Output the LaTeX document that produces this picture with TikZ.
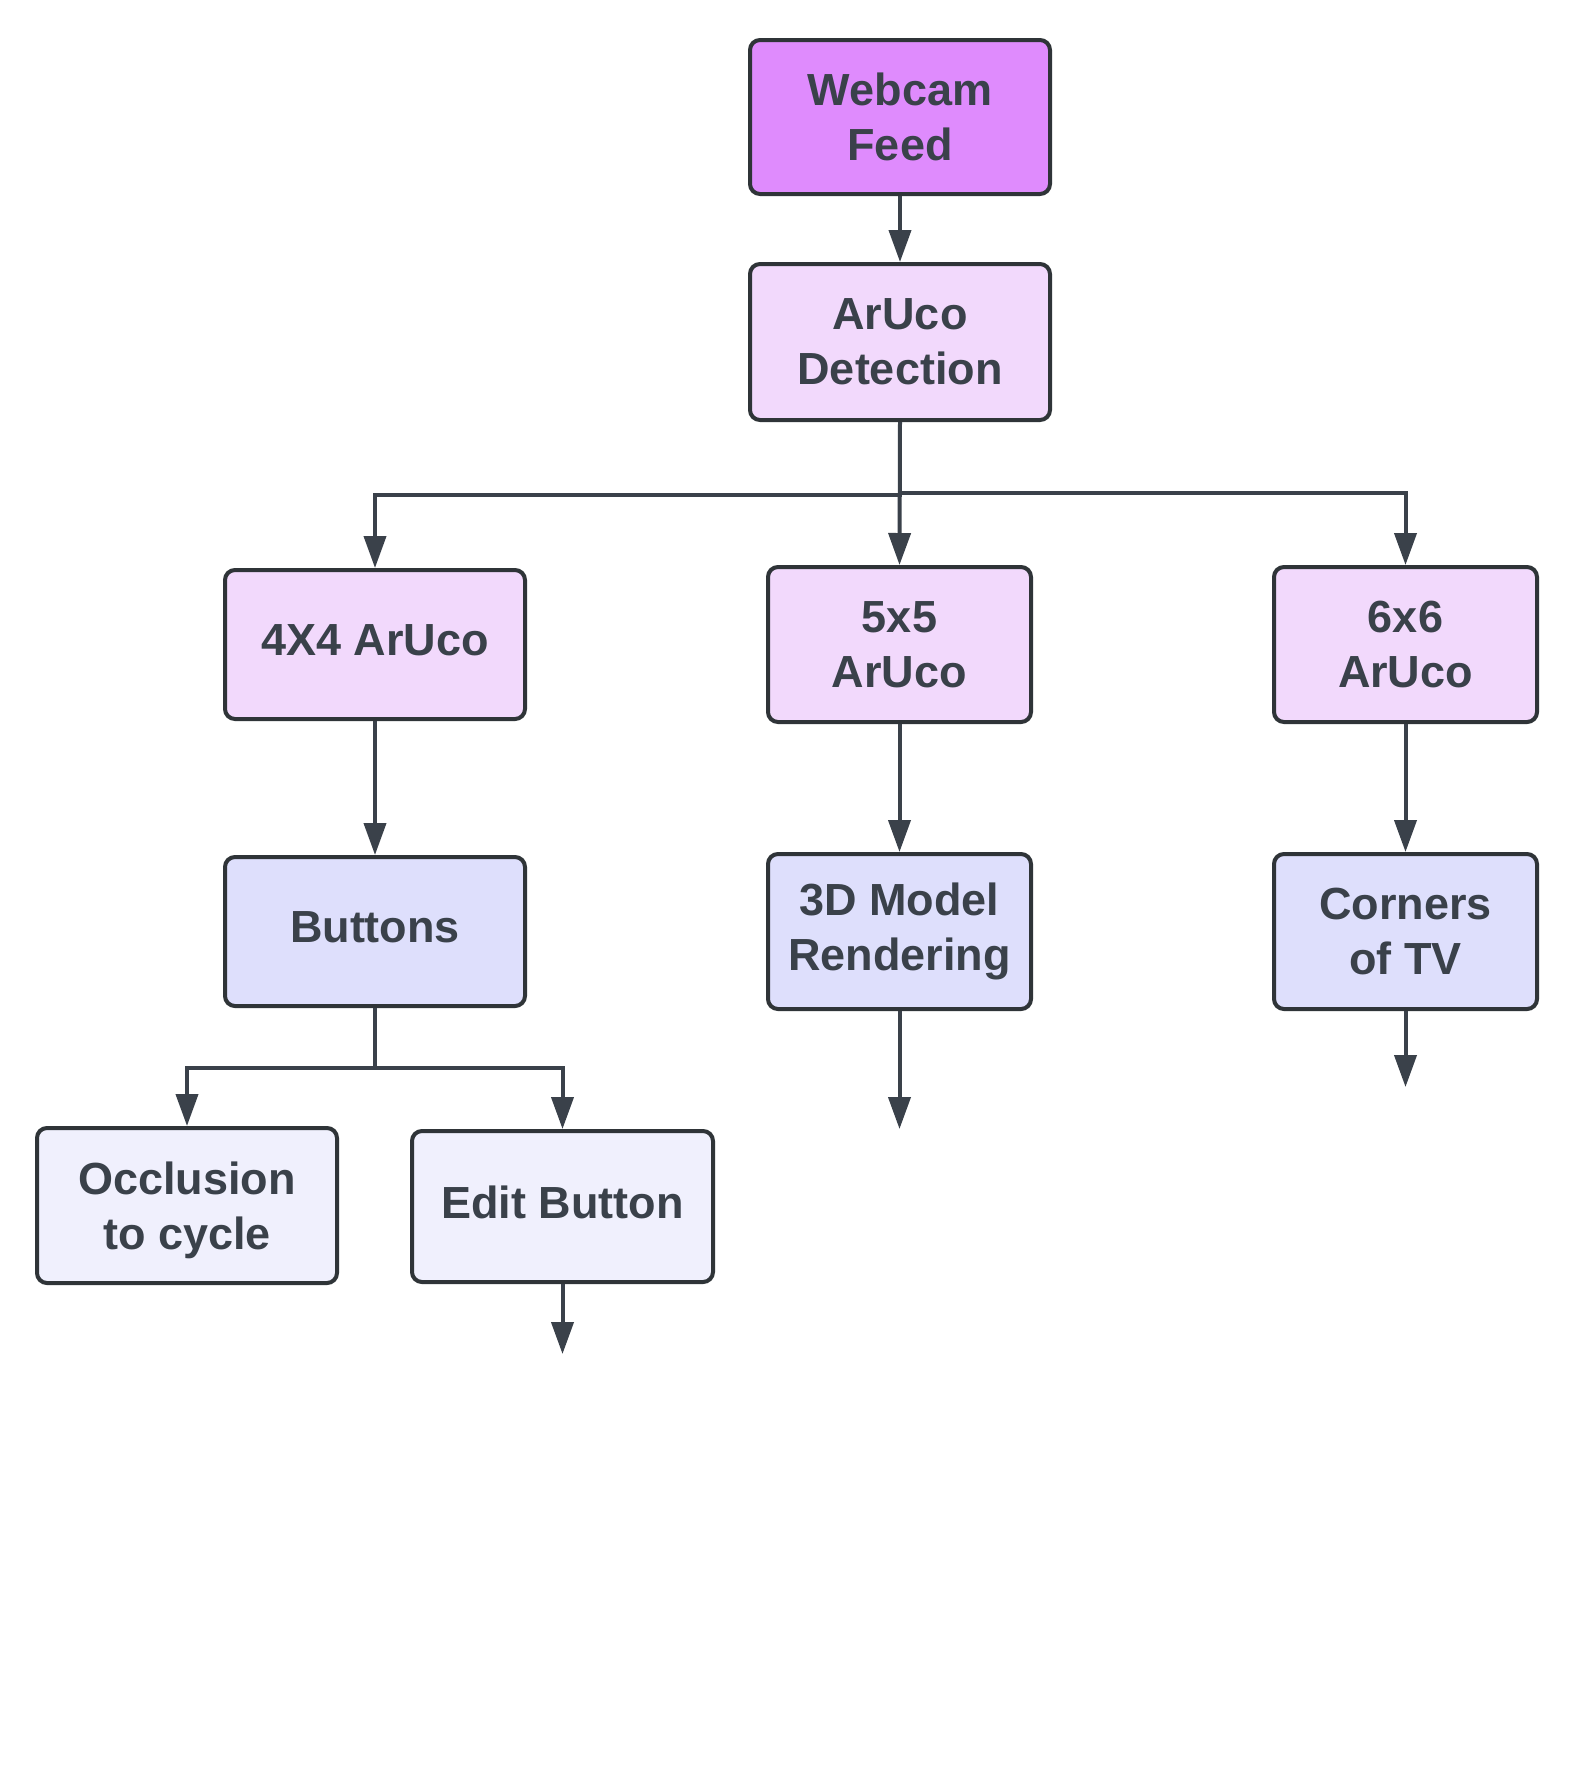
\documentclass[tikz,border=0pt]{standalone}
\usepackage{fontspec}
\setmainfont{Liberation Sans}
\usetikzlibrary{arrows.meta}
\definecolor{txt}{HTML}{3A414A}
\definecolor{edge}{HTML}{2F3438}
\definecolor{cTop}{HTML}{DF8BFD}
\definecolor{cMid}{HTML}{F2D9FC}
\definecolor{cBlue}{HTML}{DEDFFC}
\definecolor{cPale}{HTML}{F0F0FD}
\tikzset{
  box/.style={draw=edge, line width=2pt, rounded corners=5pt, inner sep=0pt,
    align=center, text=txt, font=\fontsize{22.5}{27.5}\selectfont\bfseries},
  lbl/.style={inner sep=0pt, align=center, text=txt, font=\fontsize{22.5}{27.5}\selectfont\bfseries},
  conn/.style={draw=txt, line width=2pt, -{Triangle[length=16pt,width=11pt]}},
  plain/.style={draw=txt, line width=2pt}
}
\begin{document}
\begin{tikzpicture}[x=0.5pt,y=-0.5pt]
\useasboundingbox[fill=white] (0,0) rectangle (1584,1779);
\node[box, fill=cTop, minimum width=150pt, minimum height=77pt] (web) at (900,117) {Webcam\\Feed};
\node[box, fill=cMid, minimum width=150pt, minimum height=78pt] (det) at (900,342) {ArUco\\Detection};
\node[box, fill=cMid, minimum width=150pt, minimum height=74.5pt,
  label={[lbl,yshift=2.25pt]center:4X4 ArUco}] (a4) at (375,644.5) {};
\node[box, fill=cMid, minimum width=131.5pt, minimum height=77.5pt] (a5) at (899.5,644.5) {5x5\\ArUco};
\node[box, fill=cMid, minimum width=131.5pt, minimum height=77.5pt] (a6) at (1405.5,644.5) {6x6\\ArUco};
\node[box, fill=cBlue, minimum width=150pt, minimum height=74.5pt,
  label={[lbl,yshift=2.25pt]center:Buttons}] (btn) at (375,931.5) {};
\node[box, fill=cBlue, minimum width=131.5pt, minimum height=77.5pt] (r3d) at (899.5,931.5) {3D Model\\Rendering};
\node[box, fill=cBlue, minimum width=131.5pt, minimum height=77.5pt] (tv) at (1405.5,931.5) {Corners\\of TV};
\node[box, fill=cPale, minimum width=150pt, minimum height=77.5pt,
  label={[lbl,yshift=-2.25pt]center:{Occlusion\\to cycle}}] (occ) at (187,1205.5) {};
\node[box, fill=cPale, minimum width=150.5pt, minimum height=75.5pt,
  label={[lbl,yshift=2.25pt]center:Edit Button}] (edit) at (562.5,1206.5) {};
\coordinate (j1) at (900,495);
\coordinate (j2) at (900,493);
\coordinate (j3) at (375,1068);
\coordinate (e1) at (899.5,1129);
\coordinate (e2) at (1405.5,1087);
\coordinate (e3) at (562.5,1354);
\draw[conn] (web.south) -- (det.north);
\draw[conn] (det.south) -- (j1) -| (a4.north);
\draw[conn] (det.south) -- (a5.north);
\draw[conn] (det.south) -- (j2) -| (a6.north);
\draw[conn] (a4.south) -- (btn.north);
\draw[conn] (a5.south) -- (r3d.north);
\draw[conn] (a6.south) -- (tv.north);
\draw[conn] (btn.south) -- (j3) -| (occ.north);
\draw[conn] (j3) -| (edit.north);
\draw[conn] (r3d.south) -- (e1);
\draw[conn] (tv.south) -- (e2);
\draw[conn] (edit.south) -- (e3);
\end{tikzpicture}
\end{document}
